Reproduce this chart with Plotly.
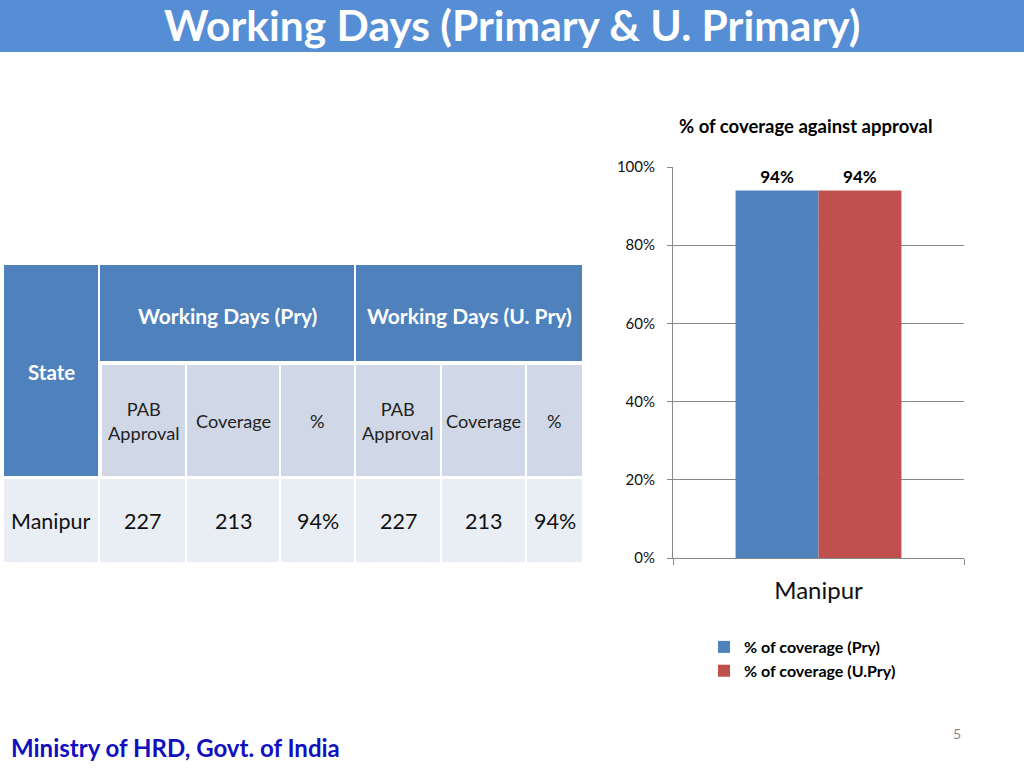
import plotly.graph_objects as go

# ---- data ----
states = ["Manipur"]
pab_pry = [227]
cov_pry = [213]
pct_pry = [0.94]
pab_upry = [227]
cov_upry = [213]
pct_upry = [0.94]
series_names = ["% of coverage (Pry)", "% of coverage (U.Pry)"]
y_ticks = [0, 0.2, 0.4, 0.6, 0.8, 1.0]

W, H = 1024, 768
BLUE = "#4F81BD"
RED = "#C0504D"
FONT = "Lato"


def px(x):
    return x / W


def py(y):
    return 1 - y / H


fig = go.Figure()
for vals, name, color, grp in [(pct_pry, series_names[0], BLUE, "a"),
                               (pct_upry, series_names[1], RED, "b")]:
    fig.add_trace(go.Bar(x=states, y=vals, name=name, marker_color=color,
                         marker_line_width=0, legendgroup=grp,
                         texttemplate="%{y:.0%}", textposition="outside",
                         textfont=dict(size=17, color="#000", family=FONT, weight="bold"),
                         cliponaxis=False))

shapes = []
annotations = []

# title bar
shapes.append(dict(type="rect", xref="paper", yref="paper", x0=0, x1=1, y0=py(52), y1=1,
                   fillcolor="#558ED5", line_width=0, layer="below"))


def cell(x0, x1, y0, y1, color):
    shapes.append(dict(type="rect", xref="paper", yref="paper", x0=px(x0), x1=px(x1),
                       y0=py(y1), y1=py(y0), fillcolor=color, line_width=0, layer="below"))


def text(t, x, y, size, color="#000", weight="normal", xanchor="center"):
    annotations.append(dict(text=t, x=px(x), y=py(y), xref="paper", yref="paper",
                            xanchor=xanchor, yanchor="middle",
                            showarrow=False, font=dict(size=size, color=color, family=FONT,
                                                       weight=weight)))


text("Working Days (Primary & U. Primary)", 512, 24, 42.5, "white", "bold")

# table
SUB = "#D0D8E8"
ROW = "#E9EDF4"
cell(4, 98, 265, 476, BLUE)
cell(100, 354, 265, 361, BLUE)
cell(356, 582, 265, 361, BLUE)
cols = [(102, 185), (187, 279), (281, 354), (356, 440), (442, 525), (527, 582)]
for (a, b) in cols:
    cell(a, b, 365, 476, SUB)
data_cols = [(4, 98), (100, 185), (187, 279), (281, 354), (356, 440), (442, 525), (527, 582)]
for (a, b) in data_cols:
    cell(a, b, 479, 562, ROW)

text("State", 51, 372, 20.5, "white", "bold")
text("Working Days (Pry)", 227, 315, 21, "white", "bold")
text("Working Days (U. Pry)", 469, 315, 21, "white", "bold")
subheads = ["PAB<br>Approval", "Coverage", "%", "PAB<br>Approval", "Coverage", "%"]
for (a, b), t in zip(cols, subheads):
    text(t, (a + b) / 2, 421, 18.2, "#222")
row_vals = [states[0], str(pab_pry[0]), str(cov_pry[0]), f"{pct_pry[0]:.0%}",
            str(pab_upry[0]), str(cov_upry[0]), f"{pct_upry[0]:.0%}"]
for (a, b), t in zip(data_cols, row_vals):
    text(t, (a + b) / 2, 521, 21.5, "#111")

# chart title
text("% of coverage against approval", 806, 126, 18.5, "#000", "bold")

# footer
text("Ministry of HRD, Govt. of India", 9, 747, 24, "#1010C0", "bold", xanchor="left")
text("5", 957, 733, 14, "#888")

fig.update_layout(
    width=W, height=H, margin=dict(l=0, r=0, t=0, b=0, autoexpand=False),
    paper_bgcolor="white", plot_bgcolor="white",
    shapes=shapes, annotations=annotations,
    barmode="group", bargap=0.43, bargroupgap=0,
    font=dict(family=FONT),
    xaxis=dict(domain=[px(673), px(964)], showline=True, linecolor="#888", linewidth=1,
               ticks="outside", tickson="boundaries", ticklen=6, tickcolor="#888",
               tickfont=dict(size=24, color="#111"), showgrid=False, automargin=False,
               ticklabelstandoff=11),
    yaxis=dict(domain=[py(558), py(167)], range=[0, 1], tickvals=y_ticks, tickformat=".0%",
               showline=True, linecolor="#888", linewidth=1, ticks="outside", ticklen=5,
               tickcolor="#888", showgrid=True, gridcolor="#888", gridwidth=1,
               tickfont=dict(size=15, color="#111"), zeroline=False,
               ticklabelstandoff=9, automargin=False),
    legend=dict(x=px(704), y=py(630), xanchor="left", yanchor="top",
                font=dict(size=16, color="#000", family=FONT, weight="bold"),
                tracegroupgap=0, itemwidth=30, bgcolor="rgba(0,0,0,0)"),
    showlegend=True,
)

fig.write_html("out.html", config={"displayModeBar": False})
with open("out.html", encoding="utf-8") as f:
    html = f.read()
style = ("<style>html,body{margin:0;padding:0;overflow:hidden;width:1024px;height:768px}"
         ".plotly-graph-div{position:absolute!important;top:0;left:0}</style>")
html = html.replace("<head>", "<head>" + style, 1)
html = html.replace("<body>", '<body style="margin:0;overflow:hidden">', 1)
with open("out.html", "w", encoding="utf-8") as f:
    f.write(html)
